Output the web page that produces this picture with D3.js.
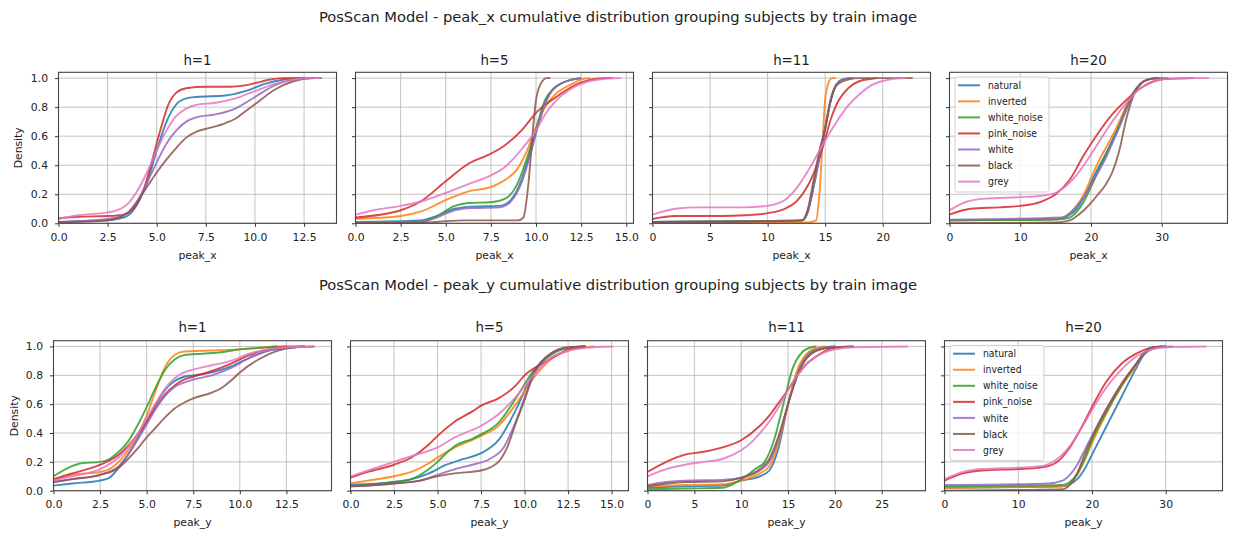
<!DOCTYPE html>
<html><head><meta charset="utf-8">
<script src="https://cdn.jsdelivr.net/npm/d3@7"></script>
<style>body{margin:0;background:#fff}svg{display:block}text{font-family:"DejaVu Sans",sans-serif;fill:#222}</style>
</head><body><svg id="c" width="1233" height="534"></svg>
<script>
// ---------- data ----------
const seriesNames = ["natural","inverted","white_noise","pink_noise","white","black","grey"];
const seriesColors = ["#1f77b4","#ff7f0e","#2ca02c","#d62728","#9467bd","#8c564b","#e377c2"];
const panelTitles = ["h=1","h=5","h=11","h=20"];
const rowTitles = ["PosScan Model - peak_x cumulative distribution grouping subjects by train image",
                   "PosScan Model - peak_y cumulative distribution grouping subjects by train image"];
const xLabels = ["peak_x","peak_y"];
const yLabel = "Density";
const yTicks = [0,0.2,0.4,0.6,0.8,1.0];
const xTicksTop = [[0,2.5,5,7.5,10,12.5],[0,2.5,5,7.5,10,12.5,15],[0,5,10,15,20],[0,10,20,30]];
const xTicksBottom = [[0,2.5,5,7.5,10,12.5],[0,2.5,5,7.5,10,12.5,15],[0,5,10,15,20,25],[0,10,20,30]];
const xMaxTop = [14.15,15.4,24.15,39.3];
const xMaxBottom = [14.92,15.97,29.67,37.7];

// peak_x, h=1
const peakX_h1 = {
  natural:[[0,0.01],[1.5,0.015],[2.5,0.02],[3.0,0.03],[3.5,0.05],[4.0,0.13],[4.5,0.28],[5.0,0.5],[5.5,0.7],[6.0,0.82],[6.5,0.86],[7.0,0.87],[8.5,0.88],[9.5,0.91],[10.5,0.96],[11.5,0.99],[12.5,1.0],[13.0,1.0]],
  pink_noise:[[0,0.035],[1.0,0.045],[2.5,0.05],[3.3,0.06],[3.8,0.1],[4.3,0.22],[4.8,0.45],[5.2,0.65],[5.6,0.82],[6.0,0.9],[6.5,0.93],[7.5,0.94],[8.7,0.94],[9.5,0.95],[10,0.965],[10.8,0.99],[11.5,1.0],[12.5,1.0]],
  white:[[0,0.01],[2.5,0.03],[3.5,0.07],[4.0,0.15],[4.5,0.28],[5.0,0.42],[5.5,0.55],[6.0,0.64],[6.5,0.7],[7.0,0.73],[8.0,0.75],[9.0,0.79],[10.0,0.87],[11.0,0.95],[12.0,0.99],[13.0,1.0]],
  black:[[0,0.005],[2.5,0.02],[3.5,0.07],[4.0,0.15],[4.5,0.25],[5.0,0.35],[5.5,0.44],[6.0,0.52],[6.5,0.59],[7.0,0.63],[7.5,0.65],[8.5,0.69],[9.0,0.72],[9.5,0.77],[10.0,0.82],[11.0,0.92],[12.0,0.98],[13.0,1.0],[13.4,1.0]],
  grey:[[0,0.03],[1,0.055],[2.5,0.075],[3.0,0.09],[3.5,0.13],[4.0,0.22],[4.5,0.35],[5.0,0.5],[5.5,0.64],[6.0,0.74],[6.5,0.79],[7.0,0.815],[8.0,0.83],[9.0,0.86],[10.0,0.91],[11.0,0.96],[12.0,0.99],[13.0,1.0],[13.3,1.0]]
};
// peak_x, h=5
const peakX_h5 = {
  natural:[[0,0.01],[3.6,0.02],[4.5,0.05],[5.5,0.1],[6.5,0.115],[8.0,0.12],[8.6,0.16],[9.2,0.3],[9.7,0.5],[10.0,0.63],[10.5,0.83],[11.0,0.93],[12.0,0.99],[12.5,1.0]],
  inverted:[[0,0.03],[2.5,0.05],[3.6,0.08],[5.0,0.16],[6.25,0.22],[7.5,0.25],[8.3,0.3],[9.0,0.38],[9.5,0.5],[10,0.66],[10.5,0.8],[11,0.88],[12,0.96],[12.5,0.99],[13,1.0]],
  white_noise:[[0,0.0],[3.6,0.005],[4.5,0.05],[5.5,0.12],[6.25,0.14],[7.5,0.145],[8.3,0.17],[9.0,0.28],[9.5,0.45],[10,0.65],[10.5,0.85],[11,0.93],[12,0.99],[12.5,1.0]],
  pink_noise:[[0,0.04],[2.5,0.09],[3.6,0.15],[5.0,0.29],[6.25,0.41],[7.5,0.48],[8.3,0.54],[9.2,0.64],[10,0.76],[11,0.86],[12.5,0.97],[13.8,1.0],[14.25,1.0]],
  white:[[0,0.01],[3.6,0.01],[4.5,0.04],[5.5,0.09],[6.5,0.105],[8.0,0.11],[8.6,0.15],[9.2,0.28],[9.7,0.48],[10,0.62],[10.5,0.82],[11.0,0.93],[12,0.99],[12.5,1.0]],
  black:[[0,0.0],[4.0,0.005],[5.0,0.015],[6.0,0.02],[9.0,0.02],[9.3,0.04],[9.6,0.3],[9.8,0.6],[10.0,0.85],[10.3,0.97],[10.6,1.0],[10.8,1.0]],
  grey:[[0,0.06],[1.0,0.09],[2.5,0.12],[3.6,0.15],[5.0,0.21],[6.25,0.27],[7.5,0.33],[8.3,0.39],[9.2,0.51],[10,0.64],[10.5,0.75],[11,0.83],[12,0.93],[12.5,0.96],[13.5,0.99],[14.7,1.0]]
};
// peak_x, h=11
const peakX_h11 = {
  natural:[[0,0.01],[13,0.02],[13.5,0.08],[14,0.25],[14.5,0.45],[15,0.65],[15.5,0.85],[16,0.96],[16.5,0.99],[17.4,1.0]],
  inverted:[[0,0.0],[13.5,0.005],[14.2,0.02],[14.5,0.2],[14.8,0.6],[15.0,0.85],[15.3,0.97],[15.6,1.0],[15.9,1.0]],
  white_noise:[[0,0.01],[13,0.02],[13.5,0.09],[14,0.27],[14.5,0.46],[15,0.66],[15.5,0.86],[16,0.96],[16.5,0.99],[17.2,1.0]],
  pink_noise:[[0,0.03],[2,0.05],[6,0.05],[8,0.055],[10,0.07],[11.5,0.1],[12.5,0.15],[13.5,0.26],[14.5,0.45],[15,0.58],[15.5,0.72],[16,0.82],[17,0.93],[18,0.98],[19,0.995],[19.5,1.0]],
  white:[[0,0.01],[13,0.02],[13.5,0.08],[14,0.26],[14.5,0.46],[15,0.66],[15.5,0.86],[16,0.96],[16.5,0.99],[17.5,1.0]],
  black:[[0,0.01],[12,0.015],[13,0.02],[13.5,0.1],[14,0.3],[14.5,0.5],[15,0.65],[15.5,0.85],[16,0.95],[17,0.99],[18,1.0],[22.6,1.0]],
  grey:[[0,0.06],[2,0.1],[4,0.11],[8,0.11],[10,0.12],[11.5,0.16],[12.5,0.24],[13.5,0.36],[14.5,0.5],[15,0.57],[16,0.7],[17,0.81],[18,0.89],[19,0.95],[20,0.98],[21,0.995],[22,1.0]]
};
// peak_x, h=20
const peakX_h20 = {
  natural:[[0,0.02],[10,0.025],[15,0.03],[17,0.06],[18,0.1],[19,0.18],[20,0.28],[21,0.38],[22,0.47],[23,0.57],[24,0.68],[25,0.8],[26,0.9],[27,0.96],[28,0.99],[29.5,1.0],[31,1.0]],
  inverted:[[0,0.02],[10,0.025],[15,0.03],[17,0.07],[18,0.12],[19,0.2],[20,0.31],[21,0.42],[22,0.51],[23,0.6],[24,0.7],[25,0.81],[26,0.9],[27,0.96],[28,0.99],[29.5,1.0]],
  white_noise:[[0,0.02],[10,0.022],[15,0.025],[17,0.04],[18,0.08],[19,0.15],[20,0.25],[21,0.36],[22,0.46],[23,0.56],[24,0.67],[25,0.79],[26,0.9],[27,0.96],[28,0.99],[29.5,1.0]],
  pink_noise:[[0,0.06],[3,0.1],[7,0.11],[10,0.12],[13,0.15],[15,0.2],[17,0.3],[19,0.47],[21,0.62],[23,0.75],[25,0.85],[27,0.93],[29,0.98],[31,0.995],[34.5,1.0]],
  white:[[0,0.025],[16,0.04],[17,0.07],[18,0.12],[19,0.18],[20,0.26],[21,0.35],[22,0.44],[23,0.55],[24,0.66],[25,0.78],[26,0.89],[27,0.96],[28,0.99],[30,1.0]],
  black:[[0,0.0],[15,0.005],[17,0.02],[18,0.05],[19,0.09],[20,0.14],[21,0.2],[22,0.26],[23,0.35],[24,0.5],[25,0.72],[26,0.88],[27,0.96],[28,0.99],[29.5,1.0]],
  grey:[[0,0.09],[2.5,0.15],[5,0.17],[10,0.18],[13,0.19],[15,0.21],[17,0.28],[19,0.4],[21,0.55],[23,0.7],[25,0.83],[27,0.93],[29,0.98],[31,0.995],[34,1.0],[36.7,1.0]]
};
// peak_y, h=1
const peakY_h1 = {
  natural:[[0,0.035],[1,0.05],[2.5,0.07],[3,0.09],[3.5,0.16],[4.0,0.25],[4.5,0.36],[5.0,0.48],[5.5,0.6],[6.0,0.7],[6.5,0.76],[7.0,0.79],[7.5,0.8],[8.5,0.82],[9.5,0.86],[10.5,0.92],[11.5,0.97],[12.5,0.99],[13.5,1.0]],
  inverted:[[0,0.07],[1,0.11],[2.5,0.13],[3.0,0.15],[3.5,0.2],[4.0,0.28],[4.5,0.38],[5.0,0.52],[5.5,0.7],[6.0,0.86],[6.5,0.94],[7.0,0.965],[8.0,0.97],[9.0,0.975],[10,0.98],[11,0.99],[12,1.0],[12.5,1.0]],
  white_noise:[[0,0.1],[1.0,0.17],[1.5,0.19],[2.5,0.2],[3.0,0.22],[3.5,0.27],[4.0,0.34],[4.5,0.45],[5.0,0.58],[5.5,0.72],[6.0,0.84],[6.5,0.91],[7.0,0.94],[8.0,0.95],[9.0,0.96],[10.0,0.98],[11,0.99],[12,1.0]],
  pink_noise:[[0,0.08],[1,0.12],[2.5,0.18],[3.5,0.25],[4.0,0.31],[4.5,0.39],[5.0,0.48],[5.5,0.58],[6.0,0.67],[6.5,0.73],[7.0,0.77],[7.5,0.79],[8.5,0.83],[9.5,0.88],[10.5,0.94],[11.5,0.98],[12.5,1.0],[13.5,1.0]],
  white:[[0,0.06],[1,0.08],[2.5,0.11],[3.5,0.17],[4.0,0.25],[4.5,0.35],[5.0,0.46],[5.5,0.57],[6.0,0.66],[6.5,0.72],[7.0,0.75],[7.5,0.77],[8.5,0.8],[9.5,0.85],[10.5,0.92],[11.5,0.97],[12.5,0.99],[13.5,1.0]],
  black:[[0,0.06],[1,0.08],[2.5,0.11],[3.5,0.16],[4.0,0.22],[4.5,0.29],[5.0,0.37],[5.5,0.44],[6.0,0.51],[6.5,0.57],[7.0,0.61],[7.5,0.64],[8.5,0.68],[9.0,0.71],[9.5,0.76],[10.0,0.82],[11,0.91],[12,0.97],[13,0.995],[14,1.0]],
  grey:[[0,0.07],[1,0.1],[2.5,0.15],[3.5,0.23],[4.0,0.3],[4.5,0.39],[5.0,0.5],[5.5,0.61],[6.0,0.71],[6.5,0.78],[7.0,0.82],[7.5,0.84],[8.5,0.87],[9.5,0.9],[10.5,0.95],[11.5,0.98],[12.5,0.995],[14,1.0]]
};
// peak_y, h=5
const peakY_h5 = {
  natural:[[0,0.04],[2.5,0.06],[3.5,0.08],[4.5,0.12],[5.5,0.18],[6.5,0.22],[7.5,0.26],[8.5,0.35],[9.5,0.56],[10.5,0.82],[11.5,0.95],[12.5,0.99],[13.5,1.0]],
  inverted:[[0,0.05],[1,0.07],[2.5,0.1],[3.5,0.13],[4.5,0.19],[5.0,0.23],[6.0,0.3],[7.5,0.38],[8.5,0.45],[9.5,0.6],[10.5,0.78],[11.5,0.91],[12.5,0.97],[13.5,0.995],[14,1.0]],
  white_noise:[[0,0.03],[2.5,0.06],[3.5,0.08],[4.5,0.15],[5.0,0.2],[5.5,0.26],[6.0,0.31],[7.0,0.36],[7.5,0.39],[8.5,0.47],[9.5,0.64],[10.5,0.83],[11.5,0.94],[12.5,0.99],[13.5,1.0]],
  pink_noise:[[0,0.09],[1,0.13],[2.5,0.18],[3.5,0.23],[4.5,0.32],[5.0,0.38],[6.0,0.48],[7.0,0.55],[7.5,0.59],[8.5,0.64],[9.5,0.73],[10,0.8],[11,0.88],[12,0.95],[12.5,0.98],[13.5,1.0]],
  white:[[0,0.03],[2.5,0.05],[4.0,0.07],[5.0,0.11],[6.0,0.15],[7.0,0.18],[8.0,0.22],[8.8,0.3],[9.5,0.48],[10.5,0.8],[11.5,0.95],[12.5,0.99],[13.5,1.0]],
  black:[[0,0.03],[2.5,0.05],[4.0,0.07],[5.0,0.1],[6.0,0.12],[7.5,0.14],[8.5,0.2],[9.0,0.3],[9.5,0.47],[10.0,0.63],[10.5,0.8],[11.5,0.95],[12.5,0.995],[13.5,1.0]],
  grey:[[0,0.1],[1,0.14],[2.5,0.2],[3.5,0.24],[5.0,0.3],[6.0,0.37],[7.5,0.45],[8.5,0.53],[9.5,0.65],[10.5,0.8],[11.5,0.92],[12.5,0.97],[13.5,0.99],[15.1,1.0]]
};
// peak_y, h=11
const peakY_h11 = {
  natural:[[0,0.02],[4,0.03],[8,0.035],[10,0.07],[12,0.1],[13,0.14],[14,0.3],[15,0.6],[16,0.82],[17,0.94],[18,0.98],[19,0.995],[20,1.0]],
  inverted:[[0,0.03],[4,0.04],[8,0.045],[10,0.07],[12,0.12],[13,0.17],[14,0.33],[15,0.6],[16,0.84],[17,0.95],[18,0.99],[19,1.0]],
  white_noise:[[0,0.01],[4,0.015],[8,0.02],[9.5,0.06],[10.5,0.1],[11.5,0.15],[12.5,0.2],[13.5,0.35],[14.5,0.6],[15.5,0.85],[16.5,0.96],[17.5,0.995],[18,1.0]],
  pink_noise:[[0,0.13],[2,0.2],[4,0.25],[6,0.27],[8,0.3],[10,0.35],[12,0.45],[13,0.52],[14,0.61],[15,0.7],[16,0.8],[17,0.88],[18,0.93],[19,0.97],[20,0.99],[22,1.0]],
  white:[[0,0.04],[2,0.06],[4,0.07],[8,0.075],[10,0.09],[12,0.14],[13,0.2],[14,0.36],[15,0.6],[16,0.8],[17,0.92],[18,0.97],[19,0.99],[20,1.0]],
  black:[[0,0.03],[4,0.06],[8,0.065],[10,0.09],[12,0.15],[13,0.22],[14,0.38],[15,0.6],[16,0.8],[17,0.92],[18,0.97],[20,0.995],[22,1.0]],
  grey:[[0,0.1],[2,0.15],[4,0.18],[6,0.2],[8,0.22],[10,0.28],[11,0.33],[12,0.4],[13,0.48],[14,0.58],[15,0.7],[16,0.8],[17,0.88],[18,0.93],[20,0.98],[22,0.995],[27.8,1.0]]
};
// peak_y, h=20
const peakY_h20 = {
  natural:[[0,0.02],[10,0.025],[16,0.03],[18,0.08],[19,0.15],[20,0.25],[22,0.45],[24,0.65],[26,0.85],[27,0.94],[28,0.98],[29,0.995],[31,1.0]],
  inverted:[[0,0.02],[10,0.025],[16,0.03],[17,0.05],[18,0.11],[19,0.21],[20,0.33],[22,0.54],[24,0.72],[26,0.87],[27,0.95],[28,0.99],[30,1.0]],
  white_noise:[[0,0.03],[10,0.035],[16,0.04],[17,0.06],[18,0.12],[19,0.22],[20,0.35],[22,0.55],[24,0.73],[26,0.88],[27,0.95],[28,0.99],[30,1.0]],
  pink_noise:[[0,0.07],[2.5,0.12],[5,0.14],[10,0.15],[13,0.16],[15,0.19],[17,0.3],[19,0.48],[20,0.58],[22,0.76],[24,0.88],[26,0.95],[28,0.99],[30,1.0]],
  white:[[0,0.04],[10,0.045],[14,0.05],[16,0.07],[17,0.11],[18,0.18],[19,0.28],[20,0.38],[22,0.57],[24,0.74],[26,0.88],[27,0.95],[28,0.98],[30,1.0]],
  black:[[0,0.0],[10,0.005],[16,0.01],[17,0.04],[18,0.12],[19,0.25],[20,0.37],[22,0.57],[24,0.74],[26,0.88],[27,0.95],[28,0.99],[29.5,1.0]],
  grey:[[0,0.08],[2.5,0.13],[5,0.15],[10,0.16],[13,0.17],[15,0.21],[17,0.31],[19,0.47],[20,0.56],[22,0.72],[24,0.84],[26,0.93],[28,0.98],[30,0.995],[35.5,1.0]]
};
const rowsData = [[peakX_h1,peakX_h5,peakX_h11,peakX_h20],[peakY_h1,peakY_h5,peakY_h11,peakY_h20]];

// ---------- layout ----------
const layout = [
  {top:72.3, bottom:223.3, lefts:[58.5,355.5,652.5,949.5], width:278, sup:21.5, sub:64.5, tickBase:241, xlab:258.5, ylabX:18.5, xMax:xMaxTop, xTicks:xTicksTop},
  {top:340.7, bottom:490.7, lefts:[53.5,350.5,647.5,944.5], width:278, sup:290, sub:332, tickBase:508.5, xlab:526, ylabX:14, xMax:xMaxBottom, xTicks:xTicksBottom}
];
const svg = d3.select("#c");
const fmt = (row,p) => (p<2 ? d3.format(".1f") : d3.format("d"));

layout.forEach((L, r) => {
  svg.append("text").attr("x", 618).attr("y", L.sup).attr("text-anchor","middle")
     .style("font-size","14.7px").text(rowTitles[r]);
  const y = d3.scaleLinear().domain([0,1.04]).range([L.bottom, L.top]);
  L.lefts.forEach((left, p) => {
    const x = d3.scaleLinear().domain([0, L.xMax[p]]).range([left, left + L.width]);
    const g = svg.append("g");
    const clipId = `clip${r}${p}`;
    g.append("clipPath").attr("id", clipId).append("rect")
      .attr("x", left).attr("y", L.top).attr("width", L.width).attr("height", L.bottom - L.top);
    // grid
    g.selectAll(".gx").data(L.xTicks[p]).join("line")
      .attr("x1", d=>x(d)).attr("x2", d=>x(d)).attr("y1", L.top).attr("y2", L.bottom)
      .attr("stroke","#b0b0b0").attr("stroke-width",1).attr("opacity",0.75);
    g.selectAll(".gy").data(yTicks).join("line")
      .attr("x1", left).attr("x2", left + L.width).attr("y1", d=>y(d)).attr("y2", d=>y(d))
      .attr("stroke","#b0b0b0").attr("stroke-width",1).attr("opacity",0.75);
    // curves
    const line = d3.line().x(d=>x(d[0])).y(d=>y(d[1])).curve(d3.curveMonotoneX);
    const data = rowsData[r][p];
    const lg = g.append("g").attr("clip-path", `url(#${clipId})`);
    seriesNames.forEach((name, i) => {
      if (!data[name]) return;
      lg.append("path").attr("d", line(data[name])).attr("fill","none")
        .attr("stroke", seriesColors[i]).attr("stroke-width",1.9).attr("stroke-opacity",0.85);
    });
    // axes
    const xa = d3.axisBottom(x).tickValues(L.xTicks[p]).tickSize(3.5).tickPadding(4).tickFormat(fmt(r,p));
    const ax = g.append("g").attr("transform", `translate(0,${L.bottom})`).call(xa);
    ax.select(".domain").remove();
    ax.selectAll(".tick line").attr("stroke","#333");
    ax.selectAll(".tick text").attr("y", null).attr("dy", null).attr("y", L.tickBase - L.bottom)
      .style("font-size","10.8px").attr("fill","#222");
    const ya = d3.axisLeft(y).tickValues(yTicks).tickSize(3.5).tickPadding(7).tickFormat(p===0 ? d3.format(".1f") : () => "");
    const ay = g.append("g").attr("transform", `translate(${left},0)`).call(ya);
    ay.select(".domain").remove();
    ay.selectAll(".tick line").attr("stroke","#333");
    ay.selectAll(".tick text").style("font-size","10.8px").attr("fill","#222");
    // frame
    g.append("rect").attr("x", left).attr("y", L.top).attr("width", L.width).attr("height", L.bottom - L.top)
      .attr("fill","none").attr("stroke","#444").attr("stroke-width",1.1);
    // titles
    g.append("text").attr("x", left + L.width/2).attr("y", L.sub).attr("text-anchor","middle")
      .style("font-size","13.4px").text(panelTitles[p]);
    g.append("text").attr("x", left + L.width/2).attr("y", L.xlab).attr("text-anchor","middle")
      .style("font-size","10.8px").text(xLabels[r]);
    if (p === 0) {
      const cy = (L.top + L.bottom)/2;
      g.append("text").attr("transform", `translate(${L.ylabX},${cy}) rotate(-90)`).attr("text-anchor","middle")
        .attr("dy","0.35em").style("font-size","10.8px").text(yLabel);
    }
    // legend
    if (p === 3) {
      const lx = left + 5.5, ly = L.top + 4.7;
      const leg = g.append("g");
      leg.append("rect").attr("x", lx).attr("y", ly).attr("width", 94).attr("height", 115)
        .attr("rx", 2.5).attr("fill","#fff").attr("fill-opacity",0.8).attr("stroke","#d0d0d0").attr("stroke-width",1);
      seriesNames.forEach((name, i) => {
        const yy = ly + 8.3 + i*16.05;
        leg.append("line").attr("x1", lx + 3).attr("x2", lx + 25).attr("y1", yy).attr("y2", yy)
          .attr("stroke", seriesColors[i]).attr("stroke-width",2).attr("stroke-opacity",0.85);
        leg.append("text").attr("x", lx + 33).attr("y", yy).attr("dy","0.35em")
          .style("font-size","10.3px").style("font-stretch","condensed").text(name);
      });
    }
  });
});
</script></body></html>
